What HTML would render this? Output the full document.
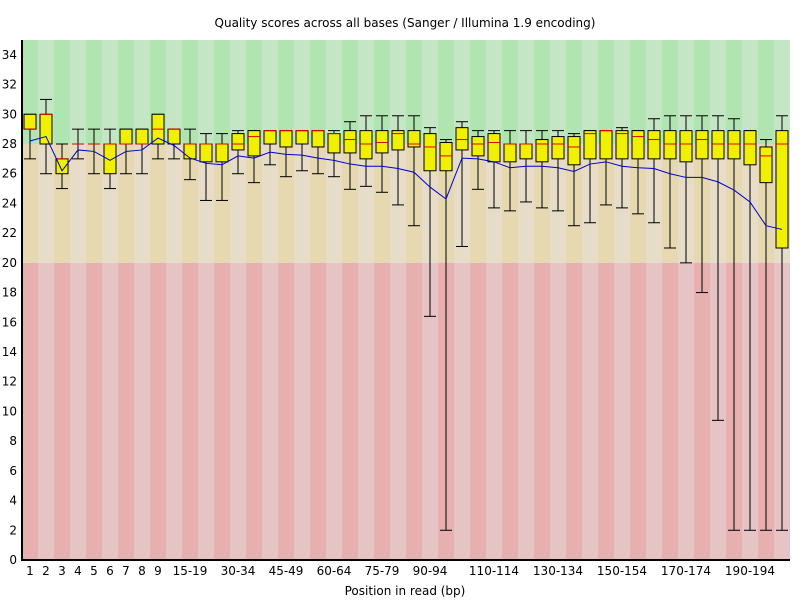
<!DOCTYPE html>
<html><head><meta charset="utf-8"><style>
body{margin:0;background:#fff;}
svg text{font-family:"DejaVu Sans","Liberation Sans",sans-serif;}
</style></head><body>
<svg id="chart" width="800" height="600" xmlns="http://www.w3.org/2000/svg">
<text x="405" y="27" font-size="12" text-anchor="middle">Quality scores across all bases (Sanger / Illumina 1.9 encoding)</text>
<text x="405" y="595" font-size="12" text-anchor="middle">Position in read (bp)</text>
<g id="bg"></g><g id="marks"></g><g id="axes"></g>
</svg>
<script>
const categories=["1","2","3","4","5","6","7","8","9","10-14","15-19","20-24","25-29","30-34","35-39","40-44","45-49","50-54","55-59","60-64","65-69","70-74","75-79","80-84","85-89","90-94","95-99","100-104","105-109","110-114","115-119","120-124","125-129","130-134","135-139","140-144","145-149","150-154","155-159","160-164","165-169","170-174","175-179","180-184","185-189","190-194","195-199","200-201"];
const shownLabels=["1","2","3","4","5","6","7","8","9","15-19","30-34","45-49","60-64","75-79","90-94","110-114","130-134","150-154","170-174","190-194"];
const upper=[30,31,28,29,29,29,29,29,30,29,29,28.7,28.7,28.9,28.9,28.9,28.9,28.9,28.9,28.9,29.5,29.9,29.9,29.9,29.9,29.1,28.3,29.5,28.9,28.9,28.9,28.9,28.9,28.9,28.7,28.9,28.9,29.1,28.9,29.7,29.9,29.9,29.9,29.9,29.7,28.9,28.3,29.9];
const q3=[30,30,27,28,28,28,29,29,30,29,28,28,28,28.7,28.9,28.9,28.9,28.9,28.9,28.7,28.9,28.9,28.9,28.9,28.9,28.7,28.1,29.1,28.5,28.7,28,28,28.3,28.5,28.5,28.9,28.9,28.9,28.9,28.9,28.9,28.9,28.9,28.9,28.9,28.9,27.8,28.9];
const median=[29,30,27,28,28,28,28,28,29,29,28,28,28,28,28.5,28.9,28.9,28.9,28.9,28.7,28.3,28,28.1,28.7,28,27.8,27.2,28.3,28,28.1,28,28,28,28,27.8,28.7,28.9,28.7,28.5,28.3,28,28,28.3,28,28,28,27.2,28];
const q1=[29,28,26,28,28,26,28,28,28,28,27,26.8,26.8,27.6,27.2,28,27.8,28,27.8,27.4,27.4,27,27.4,27.6,27.8,26.2,26.2,27.6,27.2,26.8,26.8,27,26.8,27,26.6,27,27,27,27,27,27,26.8,27,27,27,26.6,25.4,21];
const lower=[27,26,25,27,26,25,26,26,27,27,25.6,24.2,24.2,26,25.4,26.6,25.8,26.2,26,25.8,24.95,25.15,24.75,23.9,22.5,16.4,2,21.1,24.95,23.7,23.5,24.1,23.7,23.5,22.5,22.7,23.9,23.7,23.3,22.7,21,20,18,9.4,2,2,2,2];
const means=[28.2,28.5,26.2,27.6,27.5,26.9,27.5,27.6,28.4,27.9,27.05,26.7,26.6,27.2,27.05,27.45,27.3,27.25,27.05,26.9,26.65,26.5,26.5,26.35,26.1,25.1,24.3,27.05,27,26.8,26.4,26.5,26.5,26.4,26.15,26.65,26.8,26.5,26.4,26.35,26,25.75,25.75,25.45,24.9,24.1,22.5,22.25];
const yTicks=[0,2,4,6,8,10,12,14,16,18,20,22,24,26,28,30,32,34];

const NS="http://www.w3.org/2000/svg";
const L=22,R=790,T=40,B=560,YMAX=35;
const colW=(R-L)/categories.length;
function xScale(i){return L+colW*i;}
function xCenter(i){return xScale(i)+colW/2;}
function yScale(v){return B-(v/YMAX)*(B-T);}
function mk(tag,attrs,parent){const e=document.createElementNS(NS,tag);for(const k in attrs)e.setAttribute(k,attrs[k]);parent.appendChild(e);return e;}
const bg=document.getElementById('bg'),marks=document.getElementById('marks'),axes=document.getElementById('axes');
const bands=[[28,YMAX,['#b0e4b0','#c4e6c4']],[20,28,['#e6d8b0','#e6dcc8']],[0,20,['#e6b0b0','#e6c4c4']]];
categories.forEach((c,i)=>{
  bands.forEach((b,bi)=>{
    const r=mk('rect',{x:xScale(i),y:yScale(b[1]),width:colW,height:yScale(b[0])-yScale(b[1]),fill:b[2][i%2]},bg);
    
    
  });
});
categories.forEach((c,i)=>{
  const cx=xCenter(i),hw=6;
  const g=mk('g',{},marks);
  
  
  mk('line',{x1:cx,x2:cx,y1:yScale(upper[i]),y2:yScale(lower[i]),stroke:'#000','stroke-width':1},g);
  mk('line',{x1:cx-hw,x2:cx+hw,y1:yScale(upper[i]),y2:yScale(upper[i]),stroke:'#000','stroke-width':1},g);
  mk('line',{x1:cx-hw,x2:cx+hw,y1:yScale(lower[i]),y2:yScale(lower[i]),stroke:'#000','stroke-width':1},g);
  const h=yScale(q1[i])-yScale(q3[i]);
  if(h>0.5) mk('rect',{x:cx-hw,y:yScale(q3[i]),width:hw*2,height:h,fill:'#f0f000',stroke:'#000','stroke-width':1},g);
  mk('line',{x1:cx-hw,x2:cx+hw,y1:yScale(median[i]),y2:yScale(median[i]),stroke:'#e00000','stroke-width':1},g);
});
const pts=means.map((m,i)=>xCenter(i)+','+yScale(m)).join(' ');
const ml=mk('polyline',{points:pts,fill:'none',stroke:'#0000d0','stroke-width':1},marks);


const ya=mk('line',{x1:L,x2:L,y1:T,y2:B+1,stroke:'#000','stroke-width':2},axes);


const xa=mk('line',{x1:L-1,x2:R,y1:B,y2:B,stroke:'#000','stroke-width':2},axes);


yTicks.forEach(v=>{
  const t=mk('text',{x:17,y:yScale(v)+4,'font-size':12,'text-anchor':'end'},axes);
  t.textContent=v;
  
  
});
categories.forEach((c,i)=>{
  if(shownLabels.indexOf(c)<0)return;
  const t=mk('text',{x:xCenter(i),y:575,'font-size':12,'text-anchor':'middle'},axes);
  t.textContent=c;
  
  
});
</script>
</body></html>
